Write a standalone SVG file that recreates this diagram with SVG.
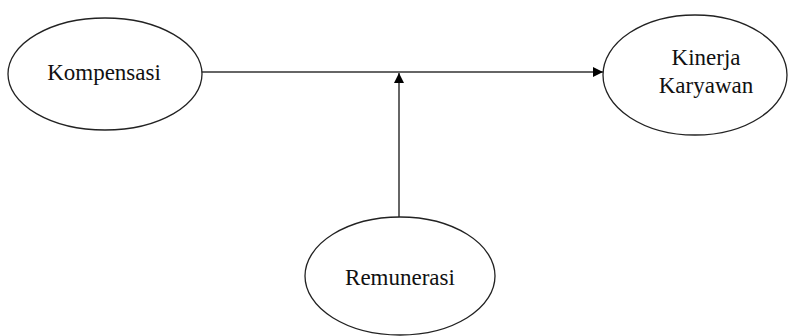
<svg xmlns="http://www.w3.org/2000/svg" width="795" height="336" viewBox="0 0 795 336">
<style>
.node ellipse{fill:#fff;stroke:#222;stroke-width:1.3}
.lbl{font-family:"Liberation Serif","Times New Roman",serif;font-size:23px;fill:#111;text-anchor:middle}
.edge{stroke:#333;stroke-width:1.5;fill:none}
</style>
<defs>
<marker id="ah" markerWidth="10" markerHeight="10" refX="10" refY="5" orient="auto" markerUnits="userSpaceOnUse">
<path d="M0,0 L10,5 L0,10 Z" fill="#000"/>
</marker>
</defs>
<rect width="795" height="336" fill="#fff"/>
<g id="connectors">
<line class="edge" x1="202" y1="72" x2="603" y2="72" marker-end="url(#ah)"/>
<line class="edge" x1="399" y1="217" x2="399" y2="73" marker-end="url(#ah)"/>
</g>
<g id="kompensasi" class="node">
<ellipse cx="105" cy="74" rx="97" ry="56"/>
<text class="lbl" x="104" y="80">Kompensasi</text>
</g>
<g id="kinerja" class="node">
<ellipse cx="695" cy="75" rx="92" ry="60"/>
<text class="lbl" x="706" y="65">Kinerja</text>
<text class="lbl" x="706" y="93">Karyawan</text>
</g>
<g id="remunerasi" class="node">
<ellipse cx="400" cy="276" rx="95" ry="59"/>
<text class="lbl" x="400" y="285">Remunerasi</text>
</g>
</svg>
